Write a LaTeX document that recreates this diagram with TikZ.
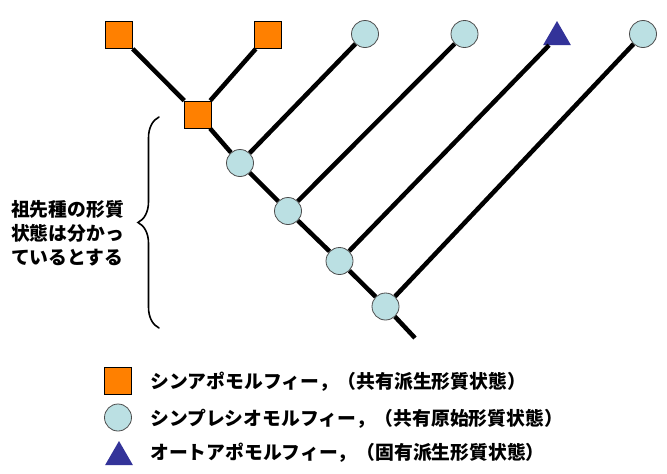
\documentclass[tikz,border=0pt]{standalone}
\usepackage{fontspec}
\setmainfont{Noto Sans CJK JP}
\usetikzlibrary{positioning,shapes.geometric,decorations.pathreplacing}
\definecolor{apoorange}{HTML}{FF8000}
\definecolor{plesiocyan}{HTML}{BBE0E3}
\definecolor{autoblue}{HTML}{333399}
\begin{document}
\begin{tikzpicture}[x=1pt,y=-1pt,
  apo/.style={rectangle,draw=black,fill=apoorange,minimum size=27pt,inner sep=0pt,line width=0.8pt},
  plesio/.style={circle,draw=black!70,fill=plesiocyan,minimum size=27pt,inner sep=0pt,line width=0.8pt},
  auto/.style={regular polygon,regular polygon sides=3,fill=autoblue,minimum size=32pt,inner sep=0pt},
  branch/.style={line width=4.5pt},
  label/.style={font=\fontsize{18.8}{24}\selectfont\bfseries,inner sep=0pt}]
\useasboundingbox (0,0) rectangle (667,474);
% \draw[help lines] (0,0) grid (667,474);
\node (t1) [apo] at (119,35) {};
\node (t2) [apo] at (268,35) {};
\node (t3) [plesio] at (365,34) {};
\node (t4) [plesio] at (464.5,34) {};
\node (t5) [auto] at (557,37) {};
\node (t6) [plesio] at (643,34) {};
%
\node (n1) [apo] at (198,114.5) {};
\node (n2) [plesio] at (240,163) {};
\node (n3) [plesio] at (288,211) {};
\node (n4) [plesio] at (339.5,261) {};
\node (n5) [plesio] at (385.5,306.5) {};
\coordinate (root) at (415,338);
%
\path[branch](t1) edge (n1);
\path[branch](t2) edge (n1);
\path[branch](n1) edge (n2);
\path[branch](t3) edge (n2);
\path[branch](n2) edge (n3);
\path[branch](t4) edge (n3);
\path[branch](n3) edge (n4);
\path[branch](t5) edge (n4);
\path[branch](n4) edge (n5);
\path[branch](t6) edge (n5);
\path[branch](n5) edge (root);
%
\coordinate (bracetop) at (159,117);
\coordinate (bracebot) at (159,328);
\draw[line width=1.6pt,line cap=round,decorate,decoration={brace,amplitude=21pt,aspect=0.5}] (bracebot) -- (bracetop);
\node (anc) [label,align=left,anchor=west] at (11,233) {祖先種の形質\\状態は分かっ\\ているとする};
%
\node (k1) [apo] at (118,381) {};
\node (k2) [plesio] at (118,417.5) {};
\node (k3) [auto] at (119,457) {};
\node (l1) [label,anchor=west] at (150,382) {シンアポモルフィー，（共有派生形質状態）};
\node (l2) [label,anchor=west] at (150,419) {シンプレシオモルフィー，（共有原始形質状態）};
\node (l3) [label,anchor=west] at (150,453) {オートアポモルフィー，（固有派生形質状態）};
%
\end{tikzpicture}
\end{document}
